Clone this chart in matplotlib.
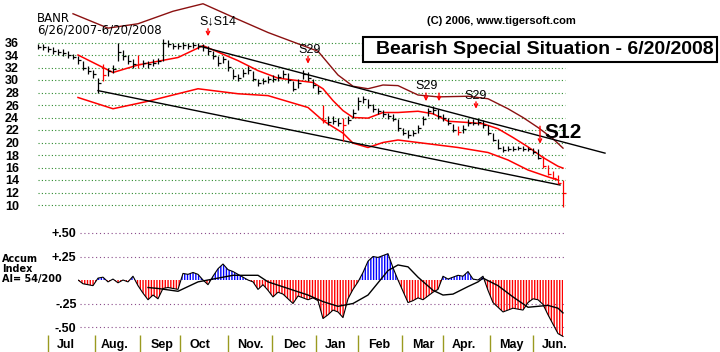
import matplotlib
matplotlib.use('Agg')
import matplotlib.pyplot as plt
from matplotlib.patches import Rectangle
from matplotlib.transforms import blended_transform_factory
import numpy as np

plt.rcParams['font.family'] = ['Liberation Sans', 'DejaVu Sans']
plt.rcParams['hatch.linewidth'] = 1.0

# ---------------- data ----------------
ticker = "BANR"
date_range = "6/26/2007-6/20/2008"
title = "Bearish Special Situation - 6/20/2008"
copyright_txt = "(C) 2006, www.tigersoft.com"

close = [35.3, 35.2, 35.0, 34.6, 34.5, 34.4, 34.0, 33.7, 33.2, 32.0,
         31.5, 30.9, 29.5, 30.8, 31.4, 31.8, 34.5, 33.9, 33.0, 32.6,
         32.5, 32.7, 32.6, 32.8, 33.0, 36.0, 35.8, 35.5, 35.4, 35.6,
         35.5, 35.6, 35.4, 35.2, 34.7, 33.8, 32.8, 33.3, 32.1, 30.7,
         30.4, 31.2, 31.6, 30.2, 29.5, 29.8, 30.1, 30.2, 30.5, 31.0,
         30.0, 28.6, 29.6, 31.0, 30.4, 29.2, 28.3, 23.6, 23.3, 23.5,
         23.2, 22.8, 23.6, 24.8, 26.6, 26.9, 26.0, 25.3, 25.0, 24.5,
         24.2, 23.8, 22.3, 21.6, 21.2, 21.5, 22.3, 23.8, 25.0, 25.2,
         24.2, 24.0, 23.1, 22.0, 21.7, 22.2, 23.2, 23.2, 23.3, 22.8,
         21.5, 20.4, 19.2, 18.8, 19.0, 19.0, 19.1, 19.0, 18.9, 18.5,
         17.6, 16.2, 15.0, 14.4, 13.6, 12.0]
high = [35.8, 35.7, 35.5, 35.2, 35.0, 34.9, 34.6, 34.2, 33.8, 33.0,
        32.2, 31.6, 30.4, 32.6, 32.0, 32.4, 36.0, 34.8, 34.0, 33.3,
        34.0, 33.2, 33.1, 33.3, 33.5, 36.6, 36.4, 36.0, 35.9, 36.1,
        36.0, 36.1, 36.0, 35.8, 35.4, 34.6, 33.8, 33.8, 33.2, 31.8,
        31.0, 31.8, 32.2, 31.5, 30.2, 30.4, 30.7, 30.8, 31.0, 31.6,
        31.2, 29.8, 30.2, 31.6, 31.3, 30.2, 29.0, 26.0, 24.2, 24.2,
        24.0, 24.0, 24.2, 25.4, 27.3, 27.5, 26.9, 26.2, 25.6, 25.2,
        24.8, 24.5, 23.8, 22.4, 22.0, 22.0, 22.8, 24.3, 25.6, 25.8,
        25.3, 24.6, 24.0, 23.0, 22.6, 22.8, 23.8, 23.8, 23.9, 23.6,
        22.8, 21.6, 20.6, 19.4, 19.4, 19.4, 19.5, 19.4, 19.3, 19.2,
        18.9, 17.8, 16.4, 15.4, 14.8, 14.0]
low = [34.9, 34.8, 34.5, 34.2, 34.0, 33.9, 33.6, 33.3, 32.6, 31.6,
       31.0, 30.3, 28.0, 29.9, 30.7, 31.2, 33.0, 33.2, 32.5, 32.0,
       32.0, 32.1, 32.0, 32.3, 32.5, 33.0, 35.2, 35.0, 34.9, 35.0,
       35.0, 35.1, 34.9, 34.6, 34.0, 33.3, 32.3, 32.7, 31.5, 30.2,
       29.9, 30.5, 31.0, 29.8, 29.0, 29.3, 29.6, 29.7, 29.9, 30.4,
       29.6, 28.2, 28.8, 30.1, 29.9, 28.8, 27.8, 23.2, 22.8, 23.0,
       22.7, 20.3, 22.9, 23.9, 25.2, 26.3, 25.6, 24.9, 24.6, 24.1,
       23.8, 23.4, 21.9, 21.2, 20.8, 21.0, 21.6, 22.8, 24.2, 24.6,
       23.8, 23.5, 22.8, 21.7, 21.2, 21.6, 22.6, 22.8, 22.8, 22.4,
       21.2, 20.2, 18.9, 18.5, 18.7, 18.7, 18.8, 18.7, 18.6, 18.2,
       17.4, 16.0, 14.8, 14.1, 13.3, 9.7]
red_bars = [13, 20, 57, 61, 84, 101, 102, 103, 104, 105]

# bands (bar index, price)
upper_idx = [7, 14, 20, 27, 33, 40, 46, 52, 56, 60, 63, 66, 69, 72, 76, 80, 86, 90, 94, 97, 100, 103, 105]
upper_val = [40.6, 38.3, 39.0, 41.0, 42.2, 39.7, 37.6, 35.8, 34.6, 30.8, 29.0, 28.6, 29.2, 29.1,
             27.6, 27.3, 27.4, 27.0, 25.4, 24.0, 22.4, 20.6, 19.1]
ma_idx = [8, 15, 20, 28, 33, 40, 44, 48, 52, 55, 57, 59, 61, 63, 66, 69, 72, 76, 79, 82, 86, 89,
          92, 95, 98, 101, 104, 105]
ma_val = [34.0, 31.2, 32.4, 33.6, 35.5, 33.1, 31.5, 30.3, 29.9, 29.6, 28.6, 26.7, 25.1, 24.0, 23.9,
          24.8, 24.8, 25.0, 24.6, 23.4, 23.2, 23.0, 22.2, 20.8, 19.3, 17.6, 16.2, 15.9]
lower_idx = [8, 15, 22, 32, 40, 46, 54, 57, 61, 63, 66, 69, 72, 77, 84, 90, 94, 98, 102, 104]
lower_val = [27.2, 25.4, 26.6, 28.6, 27.8, 27.5, 25.6, 23.5, 21.5, 19.9, 19.2, 20.0, 20.4, 19.9,
             19.2, 18.4, 17.2, 15.6, 14.5, 14.0]

# trend lines (bar index, price)
trend_hi_idx = [32.4, 113.4]
trend_hi_val = [35.4, 18.3]
trend_lo_idx = [12, 104.4]
trend_lo_val = [28.3, 13.2]

# accumulation index (bars 8..105)
ai_start = 8
ai = [0.0, -0.04, -0.05, -0.06, 0.02, 0.03, -0.02, 0.01, -0.03, 0.0,
      -0.02, 0.04, -0.06, -0.14, -0.21, -0.16, -0.20, -0.09, -0.08, -0.09,
      -0.10, 0.07, 0.06, 0.08, 0.06, 0.0, -0.05, 0.04, 0.12, 0.17,
      0.11, 0.09, 0.06, 0.03, 0.0, -0.02, -0.10, -0.05, -0.11, -0.18,
      -0.13, -0.15, -0.20, -0.25, -0.17, -0.19, -0.21, -0.19, -0.22, -0.41,
      -0.37, -0.32, -0.34, -0.40, -0.20, -0.10, -0.02, 0.08, 0.20, 0.25,
      0.24, 0.26, 0.28, 0.13, 0.0, -0.12, -0.24, -0.22, -0.19, -0.21,
      -0.17, -0.13, -0.10, 0.04, 0.01, 0.03, 0.05, 0.04, 0.09, 0.01,
      0.0, 0.04, -0.11, -0.24, -0.29, -0.34, -0.32, -0.30, -0.31, -0.32,
      -0.24, -0.20, -0.21, -0.26, -0.37, -0.47, -0.57, -0.60]
ai_ma_idx = [22, 24, 28, 32, 35, 39, 42, 44, 46, 50, 54, 57, 60, 63, 66, 68, 70, 72, 74, 76, 79, 81,
             83, 86, 88, 89, 92, 95, 98, 102, 104, 105]
ai_ma_val = [-0.08, -0.09, -0.12, -0.02, 0.01, 0.05, 0.05, 0.05, -0.02, -0.09, -0.16, -0.23, -0.28,
             -0.25, -0.16, -0.03, 0.10, 0.16, 0.14, 0.03, -0.11, -0.16, -0.15, -0.07, -0.02, 0.02,
             -0.06, -0.18, -0.29, -0.27, -0.30, -0.35]

price_ticks = [10, 12, 14, 16, 18, 20, 22, 24, 26, 28, 30, 32, 34, 36]
ai_ticks = [0.5, 0.25, -0.25, -0.5]
ai_tick_labels = ["+.50", "+.25", "-.25", "-.50"]

months = ["Jul", "Aug.", "Sep", "Oct", "Nov.", "Dec", "Jan", "Feb", "Mar", "Apr.", "May", "Jun."]
month_label_pos = [5.6, 15.4, 24.8, 32.4, 42.4, 51.4, 59.6, 68.2, 77.0, 85.2, 94.6, 103.4]
month_sep_pos = [2.0, 11.4, 20.4, 28.4, 38.0, 46.8, 55.6, 64.0, 72.8, 81.0, 90.4, 99.0]

# signals: (label, text x, text y, arrow x list, arrow top, arrow bottom, size, weight)
signals = [
    ("S\u2193S14", 36.0, 39.4, [34.0], 38.2, 37.0, 9, 'normal'),
    ("S29", 54.4, 34.8, [54.0], 33.8, 32.6, 9, 'normal'),
    ("S29", 77.8, 29.0, [77.6, 80.2], 27.9, 26.6, 9, 'normal'),
    ("S29", 87.6, 27.4, [87.6], 26.5, 25.4, 9, 'normal'),
    ("S12", 105.0, 21.6, [100.4], 22.6, 19.8, 15, 'bold'),
]

# ---------------- figure ----------------
W, H = 720, 352
fig = plt.figure(figsize=(W / 100, H / 100), dpi=100)
fig.patch.set_facecolor('white')

def fx(px):
    return px / W

def fy(py):
    return 1 - py / H

X0 = 38.0      # pixel of bar 0
PXB = 5.0      # pixels per bar
PPU = 6.25     # pixels per price unit
L, R = 30, 570

ax = fig.add_axes([fx(L), fy(215), (R - L) / W, 215 / H])
ax.set_xlim((L - X0) / PXB, (R - X0) / PXB)
ax.set_ylim(10 - 10 / PPU, 10 + 205 / PPU)
ax.set_facecolor('none')
for s in ax.spines.values():
    s.set_visible(False)
ax.set_xticks([])
ax.set_yticks(price_ticks)
ax.set_yticklabels([str(t) for t in price_ticks], fontsize=9, fontweight='bold')
ax.tick_params(axis='y', length=0, pad=7.9)

n = len(close)
idx = np.arange(n)
ax.hlines(price_ticks, 0, 105.4, colors='#2e8b2e', linestyles=(0, (1, 2)), lw=0.8, zorder=1)

cols = ['red' if i in red_bars else 'black' for i in range(n)]
ax.vlines(idx, low, high, colors=cols, lw=0.9, zorder=4)
ax.hlines(close, idx, idx + 0.55, colors=cols, lw=0.9, zorder=4)

ax.plot(upper_idx, upper_val, color='#8b1010', lw=1.0, zorder=3, clip_on=False)
ax.plot(ma_idx, ma_val, color='red', lw=1.1, zorder=3)
ax.plot(lower_idx, lower_val, color='red', lw=1.1, zorder=3)
ax.plot(trend_hi_idx, trend_hi_val, color='black', lw=1.0, zorder=3, clip_on=False)
ax.plot(trend_lo_idx, trend_lo_val, color='black', lw=1.0, zorder=3, clip_on=False)

for lab, tx, ty, axs, atop, abot, sz, wt in signals:
    ax.text(tx, ty, lab, ha='center', va='center', fontsize=sz, fontweight=wt,
            color='black', zorder=6, clip_on=False, family=['Liberation Sans', 'DejaVu Sans'])
    for xa in axs:
        ax.annotate('', xy=(xa, abot), xytext=(xa, atop),
                    arrowprops=dict(arrowstyle='->', color='red', lw=1.0,
                                    shrinkA=0, shrinkB=0, mutation_scale=6),
                    zorder=6, annotation_clip=False)

# ---------------- accumulation index ----------------
A0, A1 = 225, 340
APU = 23.5 / 0.25
ax2 = fig.add_axes([fx(78), fy(A1), (R - 78) / W, (A1 - A0) / H])
ax2.set_xlim((78 - X0) / PXB, (R - X0) / PXB)
ax2.set_ylim(-(A1 - 280) / APU, (280 - A0) / APU)
ax2.set_facecolor('none')
for s in ax2.spines.values():
    s.set_visible(False)
ax2.set_xticks([])
ax2.set_yticks(ai_ticks)
ax2.set_yticklabels(ai_tick_labels, fontsize=9, fontweight='bold')
ax2.tick_params(axis='y', length=0, pad=1)
ax2.hlines(ai_ticks, 8.4, 105.4, colors='#8a4a8a', linestyles=(0, (1, 2.5)), lw=0.8, zorder=1)

ai_arr = np.array(ai)
ai_x = np.arange(ai_start, ai_start + len(ai))
ax2.fill_between(ai_x, 0, ai_arr, where=ai_arr <= 0, interpolate=True, facecolor='none',
                 edgecolor='red', hatch='|' * 6, lw=0, zorder=2)
ax2.fill_between(ai_x, 0, ai_arr, where=ai_arr >= 0, interpolate=True, facecolor='none',
                 edgecolor='blue', hatch='|' * 6, lw=0, zorder=2)
ax2.plot(ai_x, ai_arr, color='black', lw=0.8, zorder=3)
ax2.plot(ai_ma_idx, ai_ma_val, color='black', lw=1.0, zorder=3)

# month axis
bt = blended_transform_factory(ax.transData, fig.transFigure)
ax.vlines(month_sep_pos, fy(352), fy(335), colors='#9a9a20', lw=1.0, transform=bt, clip_on=False)
for m, p in zip(months, month_label_pos):
    ax.text(p, fy(345), m, transform=bt, ha='center', va='center', fontsize=9,
            fontweight='bold', clip_on=False)

# ---------------- decorations ----------------
fig.text(fx(37), fy(18), ticker, fontsize=8.5, ha='left', va='center', family='DejaVu Sans')
fig.text(fx(37), fy(30), date_range, fontsize=8.5, ha='left', va='center', family='DejaVu Sans')
fig.text(fx(501), fy(21), copyright_txt, fontsize=8, fontweight='bold', ha='center', va='center')
fig.add_artist(Rectangle((fx(363), fy(62)), fx(717) - fx(363), (62 - 37) / H,
                         transform=fig.transFigure, facecolor='white', edgecolor='black', lw=1.5))
fig.text(fx(545), fy(50), title, fontsize=14, fontweight='bold', ha='center', va='center')

fig.text(fx(2), fy(259), "Accum", fontsize=7, fontweight='bold', ha='left', va='center',
         family='DejaVu Sans')
fig.text(fx(2), fy(269), "Index", fontsize=7, fontweight='bold', ha='left', va='center',
         family='DejaVu Sans')
fig.text(fx(2), fy(279), "AI= 54/200", fontsize=7, fontweight='bold', ha='left', va='center',
         family='DejaVu Sans')

fig.savefig('out.png', dpi=100, facecolor='white')
